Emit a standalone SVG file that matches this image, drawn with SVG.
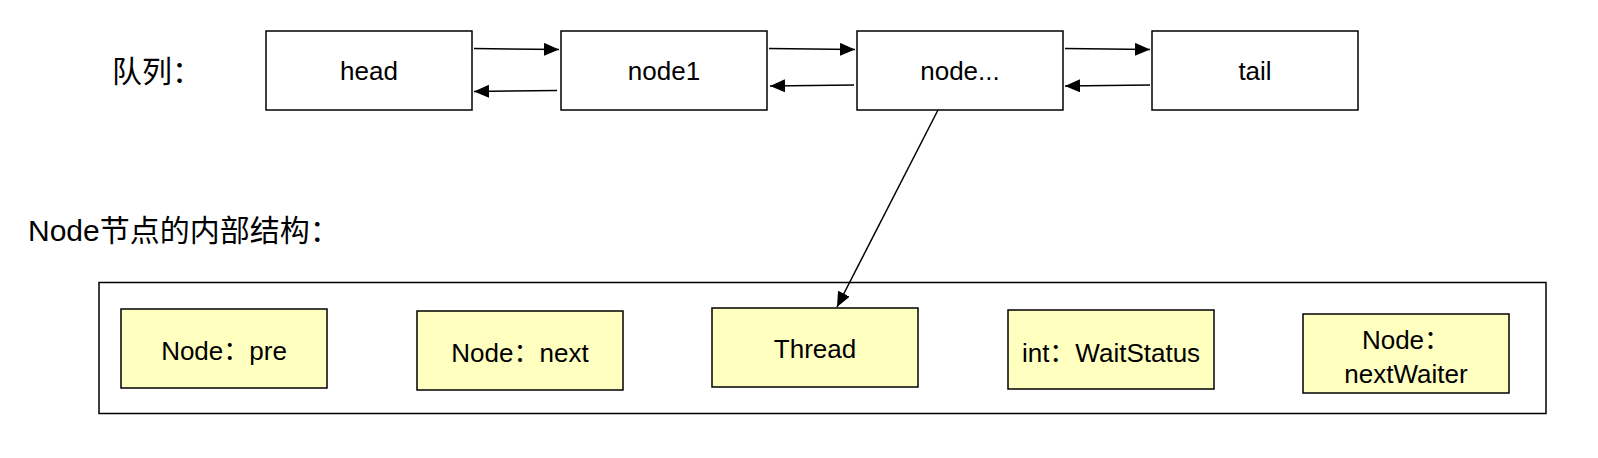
<svg xmlns="http://www.w3.org/2000/svg" width="1598" height="458" viewBox="0 0 1598 458">
<style>
text{font-family:"Liberation Sans","Noto Sans CJK SC",sans-serif;font-size:26px;fill:#000;text-anchor:middle}
.lbl{text-anchor:start;font-size:30px}
.box{fill:#fff;stroke:#000;stroke-width:1.5}
.ybox{fill:#FFFFC0;stroke:#000;stroke-width:1.5}
.frame{fill:#fff;stroke:#000;stroke-width:1.5}
.edge{stroke:#000;stroke-width:1.5;fill:none;marker-end:url(#arr)}
</style>
<defs>
<marker id="arr" markerUnits="userSpaceOnUse" markerWidth="16" markerHeight="14" refX="15" refY="6.5" orient="auto">
<path d="M0,0 L15,6.5 L0,13 z" fill="#000"/>
</marker>
</defs>
<rect width="1598" height="458" fill="#fff"/>
<text class="lbl" x="112" y="81.5">队列：</text>
<text class="lbl" x="28" y="240.5">Node节点的内部结构：</text>
<g id="frame"><rect class="frame" x="99" y="282.5" width="1447" height="131"/></g>
<g id="head"><rect class="box" x="266" y="31" width="206" height="79"/><text x="369" y="80">head</text></g>
<g id="node1"><rect class="box" x="561" y="31" width="206" height="79"/><text x="664" y="80">node1</text></g>
<g id="nodeN"><rect class="box" x="857" y="31" width="206" height="79"/><text x="960" y="80">node...</text></g>
<g id="tail"><rect class="box" x="1152" y="31" width="206" height="79"/><text x="1255" y="80">tail</text></g>
<g id="pre"><rect class="ybox" x="121" y="309" width="206" height="79"/><text x="224" y="360">Node：pre</text></g>
<g id="next"><rect class="ybox" x="417" y="311" width="206" height="79"/><text x="520" y="362">Node：next</text></g>
<g id="thread"><rect class="ybox" x="712" y="308" width="206" height="79"/><text x="815" y="358">Thread</text></g>
<g id="waitstatus"><rect class="ybox" x="1008" y="310" width="206" height="79"/><text x="1111" y="362">int：WaitStatus</text></g>
<g id="nextwaiter"><rect class="ybox" x="1303" y="314" width="206" height="79"/><text x="1406" y="349">Node：</text><text x="1406" y="383">nextWaiter</text></g>
<g id="connectors">
<line class="edge" x1="474" y1="48.5" x2="559" y2="49.5"/>
<line class="edge" x1="557" y1="90.5" x2="474" y2="91.5"/>
<line class="edge" x1="769" y1="48.5" x2="855" y2="49.5"/>
<line class="edge" x1="854" y1="85" x2="770" y2="86"/>
<line class="edge" x1="1065" y1="48.5" x2="1150" y2="49.5"/>
<line class="edge" x1="1150" y1="85" x2="1065" y2="86"/>
<line class="edge" x1="938" y1="110" x2="837" y2="307"/>
</g>
</svg>
